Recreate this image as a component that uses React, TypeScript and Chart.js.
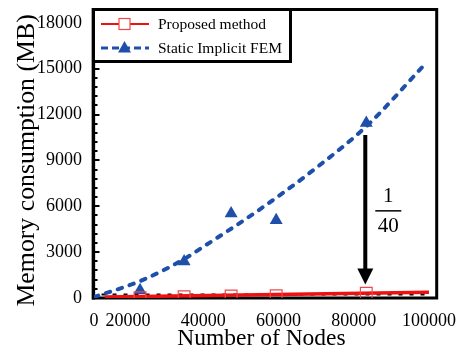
import React, { useEffect, useRef } from "react";
import { Chart, registerables } from "chart.js";
Chart.register(...registerables);

// ---- data ----
const nodes = [23230, 34940, 47430, 59400, 83340];
const proposedMB = [20, 80, 125, 150, 310];
const staticFemMB = [510, 2390, 5530, 5090, 11450];
const femTrendNodes = [11000, 23490, 34680, 39880, 54200, 69810, 83600, 99210];
const femTrendMB = [60, 1130, 2510, 3325, 5650, 8470, 11290, 15370];
const proposedTrendNodes = [13860, 100000];
const proposedTrendMB = [60, 376];
const baselineNodes = [13000, 100000];
const baselineMB = [230, 230];
const xTicks = [11000, 20000, 40000, 60000, 80000, 100000];
const xTickLabels = ["0", "20000", "40000", "60000", "80000", "100000"];
const yTickStep = 3000;
const yMinorStep = 600;
const seriesNames = ["Proposed method", "Static Implicit FEM"];
const arrowTopMB = 10660;
const arrowTipMB = 880;
const fractionMB = 5700;
const fractionTop = "1";
const fractionBottom = "40";

const SERIF = "'Liberation Serif', 'Times New Roman', serif";
const BLUE = "#1E50AA";
const RED = "#EE1111";
const RED_MARK = "#F04848";

const toPts = (xs: number[], ys: number[]) => xs.map((x, i) => ({ x, y: ys[i] }));

const decorPlugin = {
  id: "decor",
  beforeDraw(chart: any) {
    const { ctx } = chart;
    ctx.save();
    ctx.fillStyle = "#fff";
    ctx.fillRect(0, 0, chart.width, chart.height);
    ctx.restore();
  },
  beforeDatasetsDraw(chart: any) {
    const { ctx, scales } = chart;
    const y = scales.y;
    ctx.save();
    ctx.strokeStyle = "#000";
    ctx.lineCap = "butt";
    // frame
    ctx.lineWidth = 3;
    ctx.beginPath();
    ctx.moveTo(92, 9.5);
    ctx.lineTo(438, 9.5);
    ctx.moveTo(436.7, 8);
    ctx.lineTo(436.7, 299.5);
    ctx.moveTo(92, 298);
    ctx.lineTo(438, 298);
    ctx.stroke();
    ctx.lineWidth = 3.5;
    ctx.beginPath();
    ctx.moveTo(93.4, 8);
    ctx.lineTo(93.4, 299.5);
    ctx.stroke();
    // inner ticks on the value axis
    ctx.lineWidth = 2;
    ctx.beginPath();
    for (let v = 0; v <= 18000; v += yMinorStep) {
      const py = Math.round(y.getPixelForValue(v));
      const major = v % yTickStep === 0;
      ctx.moveTo(94, py);
      ctx.lineTo(major ? 99.5 : 97.5, py);
    }
    ctx.stroke();
    ctx.restore();
  },
  afterDatasetsDraw(chart: any) {
    const { ctx, scales } = chart;
    const x = scales.x;
    const y = scales.y;
    ctx.save();
    // arrow
    const ax = x.getPixelForValue(nodes[4]) - 1;
    const top = y.getPixelForValue(arrowTopMB);
    const tip = y.getPixelForValue(arrowTipMB);
    const headLen = 16;
    ctx.strokeStyle = "#000";
    ctx.fillStyle = "#000";
    ctx.lineWidth = 4;
    ctx.beginPath();
    ctx.moveTo(ax, top);
    ctx.lineTo(ax, tip - headLen + 1);
    ctx.stroke();
    ctx.beginPath();
    ctx.moveTo(ax - 8, tip - headLen);
    ctx.lineTo(ax + 8, tip - headLen);
    ctx.lineTo(ax, tip);
    ctx.closePath();
    ctx.fill();
    // fraction 1/40
    const fy = y.getPixelForValue(fractionMB);
    const fx = ax + 23;
    ctx.font = `21px ${SERIF}`;
    ctx.textAlign = "center";
    ctx.textBaseline = "middle";
    ctx.fillText(fractionTop, fx, fy - 14);
    ctx.fillText(fractionBottom, fx, fy + 16);
    ctx.lineWidth = 1.5;
    ctx.beginPath();
    ctx.moveTo(fx - 13, fy);
    ctx.lineTo(fx + 13, fy);
    ctx.stroke();
    ctx.restore();
  },
  afterDraw(chart: any) {
    const { ctx } = chart;
    ctx.save();
    // legend box
    ctx.fillStyle = "#fff";
    ctx.fillRect(92, 8, 200, 55);
    ctx.strokeStyle = "#000";
    ctx.lineWidth = 3;
    ctx.strokeRect(93.5, 9.5, 197, 52);
    const y1 = 24;
    const y2 = 48;
    // entry 1: proposed
    ctx.strokeStyle = RED;
    ctx.lineWidth = 2;
    ctx.beginPath();
    ctx.moveTo(101, y1);
    ctx.lineTo(149, y1);
    ctx.stroke();
    ctx.strokeStyle = RED_MARK;
    ctx.lineWidth = 1.2;
    ctx.fillStyle = "#fff";
    ctx.fillRect(119, y1 - 5.5, 11, 11);
    ctx.strokeRect(119, y1 - 5.5, 11, 11);
    // entry 2: static FEM
    ctx.strokeStyle = BLUE;
    ctx.lineWidth = 3;
    ctx.setLineDash([7, 4]);
    ctx.beginPath();
    ctx.moveTo(101, y2);
    ctx.lineTo(149, y2);
    ctx.stroke();
    ctx.setLineDash([]);
    ctx.fillStyle = BLUE;
    ctx.beginPath();
    ctx.moveTo(124.5, y2 - 7);
    ctx.lineTo(131, y2 + 4.5);
    ctx.lineTo(118, y2 + 4.5);
    ctx.closePath();
    ctx.fill();
    ctx.fillStyle = "#000";
    ctx.font = `15.5px ${SERIF}`;
    ctx.textAlign = "left";
    ctx.textBaseline = "middle";
    ctx.fillText(seriesNames[0], 158, y1 + 1);
    ctx.fillText(seriesNames[1], 158, y2 + 1);
    ctx.restore();
  },
};

export default function App() {
  const ref = useRef<HTMLCanvasElement | null>(null);
  useEffect(() => {
    document.body.style.margin = "0";
    const canvas = ref.current;
    if (!canvas) return;
    const chart = new Chart(canvas, {
      type: "scatter",
      data: {
        datasets: [
          {
            label: seriesNames[1] + " trend",
            data: toPts(femTrendNodes, femTrendMB),
            showLine: true,
            borderColor: BLUE,
            borderWidth: 4,
            borderDash: [4.5, 8],
            borderCapStyle: "round",
            pointRadius: 0,
            cubicInterpolationMode: "monotone",
            order: 4,
          },
          {
            label: seriesNames[1],
            data: toPts(nodes, staticFemMB),
            showLine: false,
            pointStyle: "triangle",
            pointRadius: 7.5,
            backgroundColor: BLUE,
            borderColor: BLUE,
            borderWidth: 0,
            order: 3,
          },
          {
            label: "baseline",
            data: toPts(baselineNodes, baselineMB),
            showLine: true,
            borderColor: "#000",
            borderWidth: 2,
            borderDash: [4, 7],
            pointRadius: 0,
            order: 5,
          },
          {
            label: seriesNames[0] + " trend",
            data: toPts(proposedTrendNodes, proposedTrendMB),
            showLine: true,
            borderColor: RED,
            borderWidth: 3.5,
            pointRadius: 0,
            order: 2,
          },
          {
            label: seriesNames[0],
            data: toPts(nodes, proposedMB),
            showLine: false,
            pointStyle: "rect",
            pointRadius: 8.3,
            backgroundColor: "rgba(0,0,0,0)",
            borderColor: RED_MARK,
            borderWidth: 1.2,
            order: 1,
          },
        ],
      },
      options: {
        responsive: false,
        devicePixelRatio: 1,
        animation: false,
        layout: { padding: { top: 10, right: 32, left: 0, bottom: 0 } },
        plugins: { legend: { display: false }, tooltip: { enabled: false } },
        scales: {
          x: {
            type: "linear",
            min: xTicks[0],
            max: xTicks[xTicks.length - 1],
            afterBuildTicks: (s: any) => {
              s.ticks = xTicks.map((v) => ({ value: v }));
            },
            afterFit: (s: any) => {
              s.height = 55;
            },
            grid: { display: false, drawTicks: false },
            border: { display: false },
            ticks: {
              autoSkip: false,
              maxRotation: 0,
              padding: 12,
              color: "#000",
              font: { family: SERIF, size: 18 },
              callback: (v: any) => xTickLabels[xTicks.indexOf(Number(v))] ?? String(v),
            },
            title: {
              display: true,
              text: "Number of Nodes",
              color: "#000",
              font: { family: SERIF, size: 23.5, lineHeight: 1 },
              padding: { top: 0, bottom: 2 },
            },
          },
          y: {
            type: "linear",
            min: 0,
            max: 18000,
            afterFit: (s: any) => {
              s.width = 94;
            },
            grid: { display: false, drawTicks: false },
            border: { display: false },
            ticks: {
              stepSize: yTickStep,
              padding: 12,
              color: "#000",
              font: { family: SERIF, size: 18 },
              callback: (v: any) => String(v),
            },
            title: {
              display: true,
              text: "Memory consumption (MB)",
              color: "#000",
              font: { family: SERIF, size: 25.8, lineHeight: 1 },
              padding: { top: 14.5, bottom: 0 },
            },
          },
        },
      },
      plugins: [decorPlugin],
    });
    return () => chart.destroy();
  }, []);
  return (
    <div style={{ width: 468, height: 353, position: "relative" }}>
      <canvas ref={ref} width={468} height={353} style={{ display: "block" }} />
    </div>
  );
}
